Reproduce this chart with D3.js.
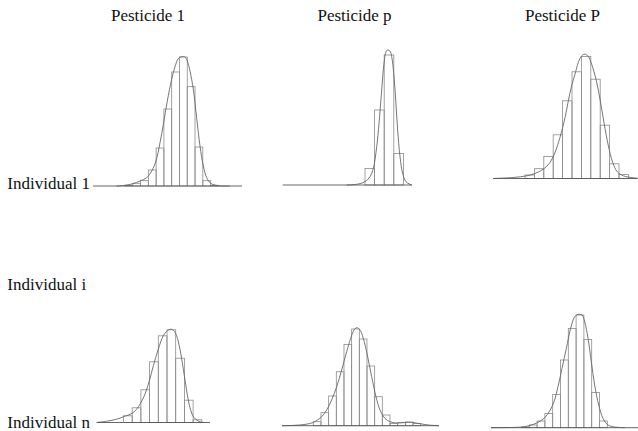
<!DOCTYPE html>
<html>
<head>
<meta charset="utf-8">
<script src="https://cdn.jsdelivr.net/npm/d3@7"></script>
<style>
  html, body { margin: 0; padding: 0; background: #fff; }
  text { font-family: "Liberation Serif", "Times New Roman", serif; fill: #111; }
</style>
</head>
<body>
<div id="chart"></div>
<script>
const pesticides = ["Pesticide 1", "Pesticide p", "Pesticide P"];
const individuals = ["Individual 1", "Individual i", "Individual n"];

// bar heights per bin, index = bin number
const bars11 = [0.7, 2.7, 5.3, 16, 38, 77, 114, 129, 99.3, 39, 5.3, 0.7];
const bars12 = [16.5, 75, 130, 31.5];
const bars13 = [3.5, 9.8, 22, 43.7, 77.7, 106.7, 122, 99.3, 53.3, 14.7, 4];
const bars31 = [6.7, 14.7, 32.7, 60.7, 86.7, 92.7, 64.3, 22.3, 2.7];
const bars32 = [4, 13, 29.7, 54, 81.3, 96.7, 86.7, 59.7, 29, 10.7, 2.3, 3, 3.7, 2.3];
const bars33 = [0.7, 2.7, 6.7, 14.3, 33.3, 67.7, 99.3, 112.7, 88.3, 35.3, 6.7];

// density curves: [bin position, height]
const dens11 = [[-1.07,0],[0,0.7],[0.99,2.3],[1.93,5],[2.79,8.3],[3.43,15],[3.98,25],[4.5,43.3],[4.93,61.7],[5.44,85],[6,106.7],[6.43,119.3],[6.85,127.3],[7.28,129.3],[7.71,129],[8.01,125],[8.35,115],[8.78,96.7],[9.21,68.3],[9.64,40],[10.07,20],[10.5,8.3],[11.01,2.7],[12,0.3],[13.5,0]];
const dens12 = [[-1.91,0],[-0.69,1],[0,3.3],[0.52,8.3],[0.87,16.7],[1.22,38.3],[1.46,61.7],[1.74,95],[1.98,121.7],[2.19,133.3],[2.36,135],[2.6,134],[2.78,128.3],[2.99,111.7],[3.2,85],[3.4,55],[3.65,28.3],[3.92,11.7],[4.27,3.3],[4.86,0]];
const dens13 = [[-3.37,0],[-1.24,1],[0.18,2.7],[1.06,5],[1.95,9.3],[2.66,16],[3.19,26],[3.72,41],[4.26,61],[4.61,77.7],[4.96,92.7],[5.32,104.3],[5.67,116],[6.03,122.7],[6.38,124.3],[6.74,122],[7.09,114.3],[7.55,99.3],[7.98,79.3],[8.4,56],[8.87,32.7],[9.33,16],[9.82,6.7],[10.46,2.7],[11.52,0.7],[12.05,0.3]];
const dens31 = [[-3.08,0],[-1.93,1.3],[-0.78,3.3],[-0.02,5.7],[1.01,9.3],[1.51,13.3],[1.97,19.3],[2.47,28.3],[2.97,41.7],[3.43,56.7],[4,73.3],[4.57,86.7],[5.03,91.7],[5.42,93.3],[5.8,91.7],[6.11,86.7],[6.49,73.3],[6.88,53.3],[7.26,31.7],[7.64,15],[8.1,5],[8.79,0.7],[9.37,0]];
const dens32 = [[-4.08,0],[-2.61,0.3],[-1.08,1.3],[0,3.3],[1.09,9],[1.74,15.7],[2.39,25.7],[3.05,39],[3.7,55.7],[4.35,74],[4.87,87.3],[5.31,95.7],[5.65,98],[6.09,95.7],[6.52,87.3],[7.04,70.7],[7.61,49],[8.17,29],[8.7,15.7],[9.35,7.3],[10,4],[10.87,2.7],[11.96,3.3],[12.83,3.3],[13.91,2],[14.99,0.7],[16.39,0]];
const dens33 = [[-3.87,0],[-0.88,0.3],[0.41,1],[1.26,2.7],[2.12,5.3],[2.97,10],[3.61,16.7],[4.17,26],[4.68,41],[5.19,59.3],[5.75,79.3],[6.3,99.3],[6.82,111],[7.24,113.3],[7.76,112.7],[8.1,106],[8.53,89.3],[8.95,66],[9.38,42.7],[9.9,22.7],[10.45,9.3],[11.09,2.7],[11.95,0.7],[13.23,0]];

const width = 638, height = 431;

// panel layout: first bin edge, bin width, baseline, axis line extent (pixels)
const panels = [
  { bars: bars11, dens: dens11, left: 125,   binW: 7.78, base: 186,   axis: [93, 242] },
  { bars: bars12, dens: dens12, left: 365,   binW: 9.6,  base: 185,   axis: [282.7, 412] },
  { bars: bars13, dens: dens13, left: 525,   binW: 9.4,  base: 178.5, axis: [493, 637] },
  { bars: bars31, dens: dens31, left: 123.5, binW: 8.7,  base: 422.5, axis: [96.7, 210] },
  { bars: bars32, dens: dens32, left: 313.3, binW: 7.67, base: 425.7, axis: [282, 439] },
  { bars: bars33, dens: dens33, left: 521.5, binW: 7.8,  base: 427.7, axis: [491, 638] }
];

const svg = d3.select("#chart").append("svg")
  .attr("width", width)
  .attr("height", height);

// column titles
const titleX = [148, 354.5, 562.5];
svg.selectAll(".title")
  .data(pesticides)
  .enter().append("text")
  .attr("class", "title")
  .attr("x", (d, i) => titleX[i])
  .attr("y", 20.7)
  .attr("text-anchor", "middle")
  .style("font-size", "17px")
  .text(d => d);

// row labels
const rowY = [189, 290, 427.5];
svg.selectAll(".row")
  .data(individuals)
  .enter().append("text")
  .attr("class", "row")
  .attr("x", 7.3)
  .attr("y", (d, i) => rowY[i])
  .style("font-size", "17px")
  .text(d => d);

panels.forEach(p => {
  const x = d3.scaleLinear().domain([0, 1]).range([p.left, p.left + p.binW]);
  const y = d3.scaleLinear().domain([0, 140]).range([p.base, p.base - 140]);
  const g = svg.append("g");

  g.selectAll("rect")
    .data(p.bars)
    .enter().append("rect")
    .attr("x", (d, i) => x(i))
    .attr("y", d => y(d))
    .attr("width", x(1) - x(0))
    .attr("height", d => y(0) - y(d))
    .attr("fill", "none")
    .attr("stroke", "#8c8c8c")
    .attr("stroke-width", 0.8);

  g.append("path")
    .datum(p.dens)
    .attr("d", d3.line()
      .x(d => x(d[0]))
      .y(d => y(d[1]))
      .curve(d3.curveCatmullRom.alpha(0.5)))
    .attr("fill", "none")
    .attr("stroke", "#666")
    .attr("stroke-width", 0.9);

  g.append("line")
    .attr("x1", p.axis[0])
    .attr("x2", p.axis[1])
    .attr("y1", y(0))
    .attr("y2", y(0))
    .attr("stroke", "#555")
    .attr("stroke-width", 0.9);
});
</script>
</body>
</html>
